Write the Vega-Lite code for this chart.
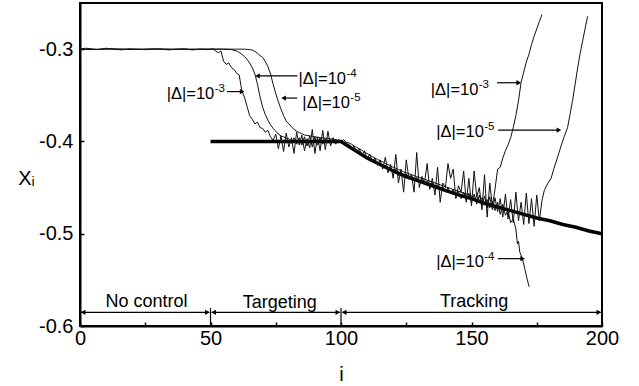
{
  "$schema": "https://vega.github.io/schema/vega-lite/v6.json",
  "width": 522,
  "height": 323,
  "autosize": {"type": "none"},
  "padding": {"left": 80, "top": 3, "right": 37, "bottom": 60},
  "background": "white",
  "config": {
    "view": {"stroke": "black", "strokeWidth": 2},
    "font": "Liberation Sans"
  },
  "datasets": {
    "T": [{"i":50,"x":-0.4},{"i":100,"x":-0.4},{"i":105,"x":-0.409},{"i":110,"x":-0.418},{"i":115,"x":-0.425},{"i":120,"x":-0.432},{"i":125,"x":-0.438},{"i":130,"x":-0.443},{"i":135,"x":-0.448},{"i":140,"x":-0.453},{"i":145,"x":-0.458},{"i":150,"x":-0.462},{"i":155,"x":-0.467},{"i":160,"x":-0.471},{"i":165,"x":-0.475},{"i":170,"x":-0.479},{"i":175,"x":-0.483},{"i":180,"x":-0.486},{"i":185,"x":-0.49},{"i":190,"x":-0.493},{"i":195,"x":-0.497},{"i":200,"x":-0.5}],
    "A": [{"i":0,"x":-0.3},{"i":2,"x":-0.299},{"i":4,"x":-0.2995},{"i":7,"x":-0.3005},{"i":10,"x":-0.299},{"i":13,"x":-0.3},{"i":16,"x":-0.3008},{"i":19,"x":-0.2996},{"i":22,"x":-0.3},{"i":25,"x":-0.3006},{"i":28,"x":-0.2998},{"i":31,"x":-0.3},{"i":34,"x":-0.3008},{"i":37,"x":-0.3},{"i":40,"x":-0.2997},{"i":43,"x":-0.3008},{"i":46,"x":-0.3},{"i":49,"x":-0.3005},{"i":51,"x":-0.2998},{"i":52,"x":-0.302},{"i":53,"x":-0.304},{"i":54,"x":-0.302},{"i":55,"x":-0.313},{"i":56,"x":-0.3165},{"i":57,"x":-0.315},{"i":58,"x":-0.32},{"i":59,"x":-0.322},{"i":60,"x":-0.326},{"i":61,"x":-0.328},{"i":62,"x":-0.345},{"i":63,"x":-0.352},{"i":64,"x":-0.362},{"i":65,"x":-0.372},{"i":66,"x":-0.376},{"i":67,"x":-0.381},{"i":68,"x":-0.379},{"i":69,"x":-0.385},{"i":70,"x":-0.386},{"i":71,"x":-0.39},{"i":72,"x":-0.388},{"i":73,"x":-0.395},{"i":74,"x":-0.399},{"i":75,"x":-0.392},{"i":76,"x":-0.408},{"i":77,"x":-0.394},{"i":78,"x":-0.411},{"i":79,"x":-0.391},{"i":80,"x":-0.406},{"i":81,"x":-0.396},{"i":82,"x":-0.413},{"i":83,"x":-0.39},{"i":84,"x":-0.404},{"i":85,"x":-0.393},{"i":86,"x":-0.41},{"i":87,"x":-0.397},{"i":88,"x":-0.407},{"i":89,"x":-0.387},{"i":90,"x":-0.413},{"i":91,"x":-0.395},{"i":92,"x":-0.41},{"i":93,"x":-0.388},{"i":94,"x":-0.409},{"i":95,"x":-0.389},{"i":96,"x":-0.405},{"i":97,"x":-0.396},{"i":98,"x":-0.403},{"i":99,"x":-0.398},{"i":100,"x":-0.4},{"i":101,"x":-0.401},{"i":102,"x":-0.404},{"i":103,"x":-0.403},{"i":104,"x":-0.408},{"i":105,"x":-0.405},{"i":106,"x":-0.412},{"i":107,"x":-0.408},{"i":108,"x":-0.415},{"i":109,"x":-0.41},{"i":110,"x":-0.419},{"i":111,"x":-0.414},{"i":112,"x":-0.421},{"i":113,"x":-0.418},{"i":114,"x":-0.426},{"i":115,"x":-0.42},{"i":116,"x":-0.43},{"i":117,"x":-0.417},{"i":118,"x":-0.434},{"i":119,"x":-0.425},{"i":120,"x":-0.44},{"i":121,"x":-0.414},{"i":122,"x":-0.445},{"i":123,"x":-0.43},{"i":124,"x":-0.455},{"i":125,"x":-0.42},{"i":126,"x":-0.44},{"i":127,"x":-0.436},{"i":128,"x":-0.455},{"i":129,"x":-0.412},{"i":130,"x":-0.45},{"i":131,"x":-0.438},{"i":132,"x":-0.445},{"i":133,"x":-0.424},{"i":134,"x":-0.452},{"i":135,"x":-0.44},{"i":136,"x":-0.458},{"i":137,"x":-0.428},{"i":138,"x":-0.466},{"i":139,"x":-0.445},{"i":140,"x":-0.45},{"i":141,"x":-0.424},{"i":142,"x":-0.44},{"i":143,"x":-0.43},{"i":144,"x":-0.462},{"i":145,"x":-0.448},{"i":146,"x":-0.455},{"i":147,"x":-0.432},{"i":148,"x":-0.466},{"i":149,"x":-0.44},{"i":150,"x":-0.47},{"i":151,"x":-0.432},{"i":152,"x":-0.46},{"i":153,"x":-0.45},{"i":154,"x":-0.474},{"i":155,"x":-0.436},{"i":156,"x":-0.482},{"i":157,"x":-0.445},{"i":158,"x":-0.47},{"i":159,"x":-0.452},{"i":160,"x":-0.43},{"i":161,"x":-0.428},{"i":162,"x":-0.418},{"i":163,"x":-0.41},{"i":164,"x":-0.404},{"i":165,"x":-0.396},{"i":166,"x":-0.385},{"i":167,"x":-0.372},{"i":168,"x":-0.356},{"i":169,"x":-0.336},{"i":170,"x":-0.325},{"i":171,"x":-0.314},{"i":172,"x":-0.3057},{"i":173,"x":-0.295},{"i":174,"x":-0.286},{"i":175,"x":-0.278},{"i":176,"x":-0.27},{"i":177,"x":-0.2626}],
    "B": [{"i":0,"x":-0.3},{"i":5,"x":-0.3003},{"i":10,"x":-0.2998},{"i":15,"x":-0.3},{"i":20,"x":-0.3004},{"i":25,"x":-0.2998},{"i":30,"x":-0.3},{"i":35,"x":-0.3003},{"i":40,"x":-0.2999},{"i":45,"x":-0.3},{"i":50,"x":-0.3},{"i":55,"x":-0.3},{"i":58,"x":-0.3005},{"i":60,"x":-0.302},{"i":61,"x":-0.3035},{"i":62,"x":-0.3055},{"i":63,"x":-0.308},{"i":64,"x":-0.311},{"i":65,"x":-0.315},{"i":66,"x":-0.32},{"i":67,"x":-0.327},{"i":68,"x":-0.338},{"i":69,"x":-0.352},{"i":70,"x":-0.363},{"i":71,"x":-0.371},{"i":72,"x":-0.377},{"i":73,"x":-0.382},{"i":74,"x":-0.386},{"i":75,"x":-0.389},{"i":76,"x":-0.392},{"i":77,"x":-0.394},{"i":78,"x":-0.395},{"i":79,"x":-0.3965},{"i":80,"x":-0.397},{"i":81,"x":-0.402},{"i":82,"x":-0.396},{"i":83,"x":-0.403},{"i":84,"x":-0.396},{"i":85,"x":-0.404},{"i":86,"x":-0.395},{"i":87,"x":-0.405},{"i":88,"x":-0.394},{"i":89,"x":-0.406},{"i":90,"x":-0.395},{"i":91,"x":-0.404},{"i":92,"x":-0.396},{"i":93,"x":-0.403},{"i":94,"x":-0.397},{"i":95,"x":-0.402},{"i":96,"x":-0.398},{"i":97,"x":-0.401},{"i":98,"x":-0.399},{"i":99,"x":-0.4},{"i":100,"x":-0.4},{"i":101,"x":-0.398},{"i":102,"x":-0.401},{"i":103,"x":-0.4015},{"i":104,"x":-0.403},{"i":105,"x":-0.405},{"i":106,"x":-0.4065},{"i":107,"x":-0.408},{"i":108,"x":-0.4095},{"i":109,"x":-0.412},{"i":110,"x":-0.413},{"i":111,"x":-0.415},{"i":112,"x":-0.4165},{"i":113,"x":-0.418},{"i":114,"x":-0.4195},{"i":115,"x":-0.421},{"i":116,"x":-0.422},{"i":117,"x":-0.424},{"i":118,"x":-0.425},{"i":119,"x":-0.4265},{"i":120,"x":-0.428},{"i":121,"x":-0.429},{"i":122,"x":-0.4305},{"i":123,"x":-0.4315},{"i":124,"x":-0.433},{"i":125,"x":-0.434},{"i":126,"x":-0.435},{"i":127,"x":-0.436},{"i":128,"x":-0.437},{"i":129,"x":-0.438},{"i":130,"x":-0.439},{"i":132,"x":-0.441},{"i":134,"x":-0.443},{"i":136,"x":-0.445},{"i":138,"x":-0.447},{"i":140,"x":-0.449},{"i":142,"x":-0.451},{"i":144,"x":-0.453},{"i":146,"x":-0.455},{"i":148,"x":-0.457},{"i":150,"x":-0.459},{"i":151,"x":-0.463},{"i":152,"x":-0.459},{"i":153,"x":-0.466},{"i":154,"x":-0.461},{"i":155,"x":-0.469},{"i":156,"x":-0.463},{"i":157,"x":-0.472},{"i":158,"x":-0.465},{"i":159,"x":-0.475},{"i":160,"x":-0.466},{"i":161,"x":-0.479},{"i":162,"x":-0.468},{"i":163,"x":-0.48},{"i":164,"x":-0.475},{"i":165,"x":-0.488},{"i":166,"x":-0.484},{"i":167,"x":-0.495},{"i":167.6,"x":-0.511},{"i":168,"x":-0.508},{"i":168.5,"x":-0.52},{"i":169.5,"x":-0.527},{"i":170.5,"x":-0.539},{"i":171.3,"x":-0.549},{"i":172.1,"x":-0.5575}],
    "C": [{"i":0,"x":-0.3},{"i":6,"x":-0.3004},{"i":12,"x":-0.2998},{"i":18,"x":-0.3},{"i":24,"x":-0.3003},{"i":30,"x":-0.2998},{"i":36,"x":-0.3},{"i":42,"x":-0.3004},{"i":48,"x":-0.3},{"i":54,"x":-0.3},{"i":60,"x":-0.3},{"i":63,"x":-0.3},{"i":65,"x":-0.3005},{"i":66,"x":-0.301},{"i":67,"x":-0.3025},{"i":68,"x":-0.3045},{"i":69,"x":-0.307},{"i":70,"x":-0.309},{"i":71,"x":-0.3135},{"i":72,"x":-0.319},{"i":73,"x":-0.327},{"i":74,"x":-0.338},{"i":75,"x":-0.348},{"i":76,"x":-0.357},{"i":77,"x":-0.365},{"i":78,"x":-0.372},{"i":79,"x":-0.378},{"i":80,"x":-0.381},{"i":81,"x":-0.384},{"i":82,"x":-0.387},{"i":83,"x":-0.389},{"i":84,"x":-0.3905},{"i":85,"x":-0.3915},{"i":86,"x":-0.393},{"i":87,"x":-0.3935},{"i":88,"x":-0.394},{"i":89,"x":-0.3945},{"i":90,"x":-0.395},{"i":92,"x":-0.396},{"i":94,"x":-0.3965},{"i":96,"x":-0.397},{"i":98,"x":-0.398},{"i":100,"x":-0.4},{"i":101,"x":-0.401},{"i":102,"x":-0.403},{"i":103,"x":-0.405},{"i":104,"x":-0.4065},{"i":105,"x":-0.408},{"i":106,"x":-0.4105},{"i":107,"x":-0.411},{"i":108,"x":-0.414},{"i":109,"x":-0.4145},{"i":110,"x":-0.418},{"i":111,"x":-0.417},{"i":112,"x":-0.422},{"i":113,"x":-0.42},{"i":114,"x":-0.425},{"i":115,"x":-0.423},{"i":116,"x":-0.428},{"i":117,"x":-0.426},{"i":118,"x":-0.431},{"i":119,"x":-0.428},{"i":120,"x":-0.434},{"i":121,"x":-0.43},{"i":122,"x":-0.437},{"i":123,"x":-0.433},{"i":124,"x":-0.439},{"i":125,"x":-0.435},{"i":126,"x":-0.441},{"i":127,"x":-0.437},{"i":128,"x":-0.443},{"i":129,"x":-0.439},{"i":130,"x":-0.445},{"i":131,"x":-0.441},{"i":132,"x":-0.447},{"i":133,"x":-0.443},{"i":134,"x":-0.449},{"i":135,"x":-0.445},{"i":136,"x":-0.451},{"i":137,"x":-0.447},{"i":138,"x":-0.453},{"i":139,"x":-0.449},{"i":140,"x":-0.455},{"i":141,"x":-0.45},{"i":142,"x":-0.457},{"i":143,"x":-0.452},{"i":144,"x":-0.459},{"i":145,"x":-0.454},{"i":146,"x":-0.462},{"i":147,"x":-0.455},{"i":148,"x":-0.464},{"i":149,"x":-0.456},{"i":150,"x":-0.466},{"i":151,"x":-0.457},{"i":152,"x":-0.468},{"i":153,"x":-0.458},{"i":154,"x":-0.47},{"i":155,"x":-0.459},{"i":156,"x":-0.472},{"i":157,"x":-0.46},{"i":158,"x":-0.474},{"i":159,"x":-0.461},{"i":160,"x":-0.476},{"i":161,"x":-0.462},{"i":162,"x":-0.482},{"i":163,"x":-0.457},{"i":164,"x":-0.484},{"i":165,"x":-0.463},{"i":166,"x":-0.488},{"i":167,"x":-0.455},{"i":168,"x":-0.486},{"i":169,"x":-0.466},{"i":170,"x":-0.49},{"i":171,"x":-0.456},{"i":172,"x":-0.489},{"i":173,"x":-0.462},{"i":174,"x":-0.492},{"i":175,"x":-0.458},{"i":176,"x":-0.486},{"i":177,"x":-0.464},{"i":177.9,"x":-0.453},{"i":179.1,"x":-0.446},{"i":180.5,"x":-0.44},{"i":181.5,"x":-0.43},{"i":183,"x":-0.417},{"i":184.3,"x":-0.405},{"i":185.5,"x":-0.395},{"i":186.8,"x":-0.385},{"i":187.8,"x":-0.37},{"i":188.7,"x":-0.356},{"i":189.7,"x":-0.338},{"i":190.7,"x":-0.32},{"i":191.6,"x":-0.305},{"i":192.6,"x":-0.291},{"i":193.5,"x":-0.278},{"i":194.5,"x":-0.2644}],
    "arrows": [
      {"i":56.3,"x":-0.346,"i2":61.5,"x2":-0.346},
      {"i":83.3,"x":-0.329,"i2":68.6,"x2":-0.329},
      {"i":83.2,"x":-0.353,"i2":78.6,"x2":-0.353},
      {"i":159.8,"x":-0.3364,"i2":167.5,"x2":-0.3364},
      {"i":160.2,"x":-0.3877,"i2":183,"x2":-0.3877},
      {"i":160.1,"x":-0.527,"i2":169,"x2":-0.527},
      {"i":0.5,"x":-0.5852,"i2":49.5,"x2":-0.5852},
      {"i":50.5,"x":-0.5852,"i2":99.5,"x2":-0.5852},
      {"i":100.5,"x":-0.5852,"i2":199.5,"x2":-0.5852},
      {"i":50,"x":-0.6,"i2":50,"x2":-0.5806},
      {"i":100,"x":-0.6,"i2":100,"x2":-0.5806}
    ],
    "heads": [
      {"i":62.1,"x":-0.346,"d":"R"},
      {"i":68,"x":-0.329,"d":"L"},
      {"i":78,"x":-0.353,"d":"L"},
      {"i":168.1,"x":-0.3364,"d":"R"},
      {"i":183.5,"x":-0.3877,"d":"R"},
      {"i":169.6,"x":-0.527,"d":"R"},
      {"i":1.2,"x":-0.5852,"d":"L"},
      {"i":48.8,"x":-0.5852,"d":"R"},
      {"i":51.2,"x":-0.5852,"d":"L"},
      {"i":98.8,"x":-0.5852,"d":"R"},
      {"i":101.2,"x":-0.5852,"d":"L"},
      {"i":198.8,"x":-0.5852,"d":"R"}
    ],
    "labels": [
      {"i":33.2,"x":-0.3539,"t":"|Δ|=10","p":"-3"},
      {"i":83.7,"x":-0.338,"t":"|Δ|=10","p":"-4"},
      {"i":85.2,"x":-0.364,"t":"|Δ|=10","p":"-5"},
      {"i":134.4,"x":-0.35,"t":"|Δ|=10","p":"-3"},
      {"i":136.5,"x":-0.3957,"t":"|Δ|=10","p":"-5"},
      {"i":136.5,"x":-0.536,"t":"|Δ|=10","p":"-4"}
    ],
    "phases": [
      {"i":25.5,"x":-0.5795,"t":"No control"},
      {"i":76.5,"x":-0.5805,"t":"Targeting"},
      {"i":151,"x":-0.5795,"t":"Tracking"}
    ]
  },
  "encoding": {
    "x": {
      "field": "i", "type": "quantitative",
      "scale": {"domain": [0, 200], "nice": false, "zero": false},
      "axis": {
        "values": [0, 25, 50, 75, 100, 125, 150, 175, 200],
        "labelExpr": "datum.value % 50 == 0 ? datum.label : ''",
        "grid": false, "tickSize": -4, "tickWidth": 1.5, "tickColor": "black",
        "domainColor": "black", "domainWidth": 2,
        "labelFont": "Liberation Sans", "labelFontSize": 20, "labelColor": "black",
        "labelPadding": 6, "labelFlush": false,
        "title": "i", "titleFont": "Liberation Sans", "titleFontSize": 20,
        "titleFontWeight": "normal", "titleColor": "black",
        "titleY": 54, "titleBaseline": "alphabetic"
      }
    },
    "y": {
      "field": "x", "type": "quantitative",
      "scale": {"domain": [-0.6, -0.25], "nice": false, "zero": false},
      "axis": {
        "values": [-0.6, -0.5, -0.4, -0.3],
        "labelExpr": "replace(format(datum.value, '.1f'), '\u2212', '-')",
        "grid": false, "tickSize": -4, "tickWidth": 1.5, "tickColor": "black",
        "domainColor": "black", "domainWidth": 2,
        "labelFont": "Liberation Sans", "labelFontSize": 20, "labelColor": "black",
        "labelPadding": 11, "labelFlush": false,
        "title": "Xᵢ", "titleFont": "Liberation Sans", "titleFontSize": 20,
        "titleFontWeight": "normal", "titleColor": "black", "titleAngle": 0,
        "titleX": -54, "titleY": 175, "titleAlign": "center", "titleBaseline": "middle"
      }
    }
  },
  "layer": [
    {"data": {"name": "T"}, "mark": {"type": "line", "color": "black", "strokeWidth": 3.5}},
    {"data": {"name": "A"}, "mark": {"type": "line", "color": "#111", "strokeWidth": 1}},
    {"data": {"name": "B"}, "mark": {"type": "line", "color": "#111", "strokeWidth": 1}},
    {"data": {"name": "C"}, "mark": {"type": "line", "color": "#111", "strokeWidth": 1}},
    {"data": {"name": "arrows"}, "mark": {"type": "rule", "color": "black", "strokeWidth": 1.2},
     "encoding": {"x2": {"field": "i2"}, "y2": {"field": "x2"}}},
    {"data": {"name": "heads"}, "mark": {"type": "point", "filled": true, "color": "black", "size": 28, "opacity": 1},
     "encoding": {"shape": {"field": "d", "type": "nominal", "scale": {"domain": ["L", "R"], "range": ["triangle-left", "triangle-right"]}, "legend": null}}},
    {"data": {"name": "labels"}, "mark": {"type": "text", "align": "left", "baseline": "alphabetic", "font": "Liberation Sans", "fontSize": 16.5, "color": "black"},
     "encoding": {"text": {"field": "t"}}},
    {"data": {"name": "labels"}, "mark": {"type": "text", "align": "left", "baseline": "alphabetic", "font": "Liberation Sans", "fontSize": 11.5, "color": "black", "dx": 48, "dy": -7},
     "encoding": {"text": {"field": "p"}}},
    {"data": {"name": "phases"}, "mark": {"type": "text", "align": "center", "baseline": "alphabetic", "font": "Liberation Sans", "fontSize": 18, "color": "black"},
     "encoding": {"text": {"field": "t"}}}
  ]
}
